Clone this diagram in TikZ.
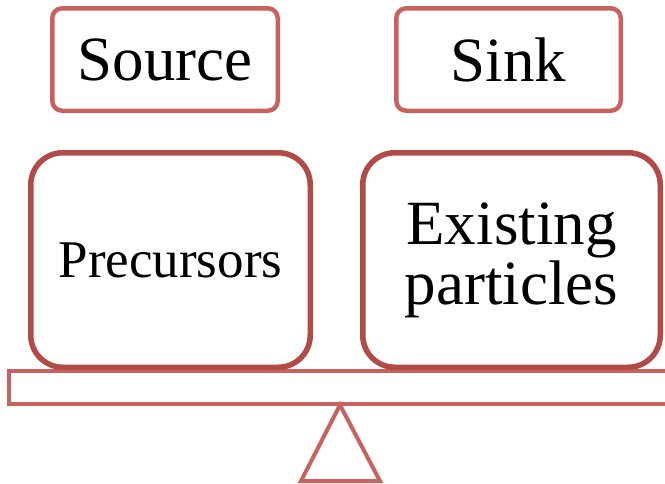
\documentclass[tikz,border=0pt]{standalone}
\usepackage{fontspec}
\setmainfont{Liberation Serif}
\definecolor{lightred}{RGB}{200,98,94}
\definecolor{darkred}{RGB}{178,75,72}
\tikzset{
  topbox/.style={draw=lightred, line width=4.5pt, fill=white, rounded corners=10pt, inner sep=0pt,
    minimum height=102.5pt, font=\fontsize{63}{60}\selectfont},
  bigbox/.style={draw=darkred, line width=5.5pt, fill=white, rounded corners=32pt, inner sep=0pt,
    minimum height=214.5pt, align=center},
  beam/.style={draw=lightred, line width=4pt},
}
\begin{document}
\begin{tikzpicture}[x=1pt,y=-1pt]
\useasboundingbox (0,0) rectangle (665,483);
\clip (0,0) rectangle (665,483);
% beam and fulcrum
\draw[beam, fill=white] (9,371) rectangle (690,404);
\coordinate (apex) at (340,405);
\coordinate (bl) at (301,481);
\coordinate (br) at (380,481);
\draw[beam, line join=miter] (apex) -- (br) -- (bl) -- cycle;
% top boxes
\node[topbox, minimum width=225.5pt] (source) at (165,59.5) {Source};
\node[topbox, minimum width=224.5pt] (sink) at (508.5,59.5) {Sink};
% bottom boxes
\node[bigbox, minimum width=279.5pt, font=\fontsize{53}{55}\selectfont] (prec) at (170.5,260) {Precursors};
\node[bigbox, minimum width=297.5pt, font=\fontsize{63}{60}\selectfont] (exist) at (511.5,260) {Existing\\particles};
\end{tikzpicture}
\end{document}
